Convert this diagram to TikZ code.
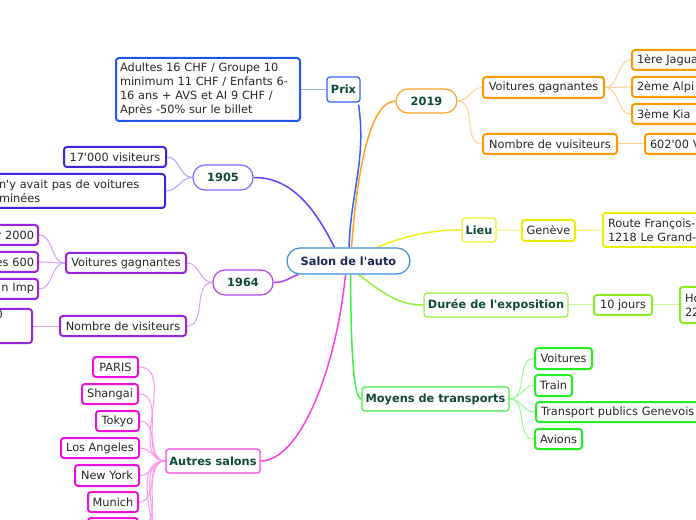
\documentclass[tikz,border=0pt]{standalone}
\usepackage{fontspec}
\setmainfont{DejaVu Sans}[Ligatures=TeXOff]
\usetikzlibrary{backgrounds}
\newdimen\pxu \pxu=0.75pt
\newcommand{\fsz}{\fontsize{8.5pt}{10.5pt}\selectfont}
\definecolor{tgreen}{HTML}{0D4A3A}
\definecolor{cnavy}{HTML}{1A2850}
\definecolor{cctr}{HTML}{3B8FD4}
\definecolor{cblue}{HTML}{3060FF}
\definecolor{cviolet}{HTML}{6A3CFF}
\definecolor{cpurple}{HTML}{B040F0}
\definecolor{cmag}{HTML}{FF40E0}
\definecolor{corange}{HTML}{FFA020}
\definecolor{cyellow}{HTML}{F0F020}
\definecolor{clime}{HTML}{99F040}
\definecolor{cgreen}{HTML}{40F040}
\definecolor{sblue}{HTML}{2255EE}
\definecolor{sviolet}{HTML}{4422DD}
\definecolor{spurple}{HTML}{9922DD}
\definecolor{smag}{HTML}{EE11DD}
\definecolor{sorange}{HTML}{FF9900}
\definecolor{syellow}{HTML}{EEEE00}
\definecolor{slime}{HTML}{88EE22}
\definecolor{sgreen}{HTML}{22EE22}
\tikzset{
  base/.style={draw, fill=white, inner sep=0pt, font=\fsz, text=black!85},
  topic/.style={base, line width=1.2\pxu, font=\fsz\bfseries, text=tgreen, rounded corners=3\pxu},
  pill/.style={topic, rounded corners=12\pxu},
  sub/.style={base, line width=2\pxu, rounded corners=3\pxu},
  sz/.style 2 args={minimum width=#1\pxu, minimum height=#2\pxu},
  mline/.style={line width=1.5\pxu},
  cline/.style={line width=1\pxu},
}
\begin{document}
\begin{tikzpicture}[x=0.75pt,y=-0.75pt]
\useasboundingbox (0,0) rectangle (696,520);
\clip (0,0) rectangle (696,520);
% central
\node[pill, draw=cctr, text=cnavy, sz={123}{26}, rounded corners=13\pxu] (c) at (348.5,261) {Salon de l'auto};
% Prix
\node[topic, draw=cblue, sz={33}{25}] (pr) at (343.5,89.5) {Prix};
\node[sub, draw=sblue, text width=176\pxu, inner xsep=4\pxu, minimum height=63\pxu, align=left] (prx) at (208,89.5)
  {Adultes 16 CHF / Groupe 10\\minimum 11 CHF / Enfants 6-\\16 ans + AVS et AI 9 CHF /\\Après -50\% sur le billet};
% 1905
\node[pill, draw=cviolet!80, sz={60}{25}] (y05) at (223,177.5) {1905};
\node[sub, draw=sviolet, sz={102}{20}] (v05a) at (115,157) {17'000 visiteurs};
\node[sub, draw=sviolet, anchor=east, text width=162\pxu, inner xsep=4\pxu, minimum height=34\pxu, align=left] (v05b) at (166,191)
  {n'y avait pas de voitures\\minées};
% 1964
\node[pill, draw=cpurple, sz={60}{25}] (y64) at (243,282.5) {1964};
\node[sub, draw=spurple, sz={120}{20}] (vg64) at (126,263) {Voitures gagnantes};
\node[sub, draw=spurple, sz={126}{20}] (nv64) at (123,326) {Nombre de visiteurs};
\node[sub, draw=spurple, anchor=east, text width=60\pxu, inner xsep=4\pxu, minimum height=20\pxu, align=right] (g64a) at (39,235) {r 2000};
\node[sub, draw=spurple, anchor=east, text width=60\pxu, inner xsep=4\pxu, minimum height=20\pxu, align=right] (g64b) at (39,262) {es 600};
\node[sub, draw=spurple, anchor=east, text width=60\pxu, inner xsep=4\pxu, minimum height=20\pxu, align=right] (g64c) at (39,289) {n Imp};
\node[sub, draw=spurple, anchor=east, sz={80}{34}] (nv64a) at (33,326) {};
\node[font=\fsz, text=black!85, anchor=base east, inner sep=0pt] (nv64t) at (3,319) {0};
% Autres salons
\node[topic, draw=cmag, sz={94}{24}] (as) at (213,461) {Autres salons};
\node[sub, draw=smag, sz={45}{20}] (as1) at (115.5,367) {PARIS};
\node[sub, draw=smag, sz={56}{20}] (as2) at (110,394) {Shangai};
\node[sub, draw=smag, sz={43}{20}] (as3) at (117.5,421) {Tokyo};
\node[sub, draw=smag, sz={78}{20}] (as4) at (100,448) {Los Angeles};
\node[sub, draw=smag, sz={64}{21}] (as5) at (107,475.5) {New York};
\node[sub, draw=smag, sz={50}{20}] (as6) at (113,502) {Munich};
\node[sub, draw=smag, sz={50}{20}] (as7) at (113,528) {};
\coordinate (as8) at (138,556);
\coordinate (as9) at (138,584);
% 2019
\node[pill, draw=corange, sz={61}{24}] (y19) at (426.5,101) {2019};
\node[sub, draw=sorange, sz={121}{21}] (vg19) at (543.5,87.5) {Voitures gagnantes};
\node[sub, draw=sorange, sz={134}{20}] (nv19) at (550,144) {Nombre de vuisiteurs};
\node[sub, draw=sorange, anchor=west, text width=100\pxu, inner xsep=5\pxu, minimum height=20\pxu, align=left] (j1) at (631,60) {1ère Jagua};
\node[sub, draw=sorange, anchor=west, text width=100\pxu, inner xsep=5\pxu, minimum height=20\pxu, align=left] (j2) at (631,87) {2ème Alpi};
\node[sub, draw=sorange, anchor=west, text width=100\pxu, inner xsep=5\pxu, minimum height=20\pxu, align=left] (j3) at (631,114) {3ème Kia};
\node[sub, draw=sorange, anchor=west, text width=100\pxu, inner xsep=5\pxu, minimum height=20\pxu, align=left] (n602) at (644,144) {602'00 V};
% Lieu
\node[topic, draw=cyellow, sz={34}{24}] (li) at (479,230) {Lieu};
\node[sub, draw=syellow, sz={53}{21}] (gen) at (548.5,230.5) {Genève};
\node[sub, draw=syellow, anchor=west, text width=110\pxu, inner xsep=5\pxu, minimum height=34\pxu, align=left] (route) at (602,230)
  {Route François-\\1218 Le Grand-};
% Duree
\node[topic, draw=clime, sz={144}{24}] (du) at (496,305) {Durée de l'exposition};
\node[sub, draw=slime, sz={58}{20}] (dj) at (623,305) {10 jours};
\node[sub, draw=slime, anchor=west, text width=60\pxu, inner xsep=5\pxu, minimum height=36\pxu, align=left] (ho) at (679,305) {Ho\\22};
% Moyens
\node[topic, draw=cgreen, sz={147}{24}] (mo) at (435.5,399) {Moyens de transports};
\node[sub, draw=sgreen, sz={57}{21}] (t1) at (563.5,358.5) {Voitures};
\node[sub, draw=sgreen, sz={37}{21}] (t2) at (553.5,385.5) {Train};
\node[sub, draw=sgreen, anchor=west, text width=170\pxu, inner xsep=5\pxu, minimum height=20\pxu, align=left] (t3) at (535,412) {Transport publics Genevois};
\node[sub, draw=sgreen, sz={47}{20}] (t4) at (558.5,439) {Avions};

\begin{pgfonlayer}{background}
% main connectors
\draw[cblue, mline] ([xshift=0.5\pxu]c.north) to[out=88,in=-82] ([xshift=-2\pxu,yshift=-2\pxu]pr.south east);
\draw[corange, mline] ([xshift=3\pxu]c.north) .. controls (358,160) and (372,101) .. (y19.west);
\draw[cviolet, mline] (y05.east) .. controls (295,177) and (318,215) .. ([xshift=-14\pxu]c.north);
\draw[cpurple, mline] (y64.east) .. controls (285,283) and (292,276) .. ([xshift=12\pxu]c.south west);
\draw[cmag, mline] (as.east) .. controls (300,461) and (336,370) .. ([xshift=-3\pxu]c.south);
\draw[cgreen, mline] ([xshift=2\pxu]c.south) .. controls (351,330) and (352,399) .. (mo.west);
\draw[clime, mline] ([xshift=10\pxu]c.south) .. controls (385,295) and (400,305) .. (du.west);
\draw[cyellow, mline] ([xshift=28\pxu]c.north) .. controls (405,236) and (430,230) .. (li.west);
% child connectors
\draw[cblue!50, cline] (pr.west) -- (prx.east);
\foreach \n in {v05a,v05b} \draw[cviolet!50, cline] (y05.west) to[out=180,in=0] (\n.east);
\foreach \n in {vg64,nv64} \draw[cpurple!50, cline] (y64.west) to[out=180,in=0] (\n.east);
\foreach \n in {g64a,g64b,g64c} \draw[cpurple!50, cline] (vg64.west) to[out=180,in=0] (\n.east);
\draw[cpurple!50, cline] (nv64.west) -- (nv64a.east);
\foreach \n in {as1,as2,as3,as4,as5,as6,as7} \draw[cmag!55, cline] (as.west) to[out=180,in=0] (\n.east);
\foreach \n in {as8,as9} \draw[cmag!55, cline] (as.west) to[out=180,in=0] (\n);
\foreach \n in {vg19,nv19} \draw[corange!50, cline] (y19.east) to[out=0,in=180] (\n.west);
\foreach \n in {j1,j2,j3} \draw[corange!50, cline] (vg19.east) to[out=0,in=180] (\n.west);
\draw[corange!50, cline] (nv19.east) -- (n602.west);
\draw[cyellow!60, cline] (li.east) -- (gen.west);
\draw[cyellow!60, cline] (gen.east) -- (route.west);
\draw[clime!55, cline] (du.east) -- (dj.west);
\draw[clime!55, cline] (dj.east) -- (ho.west);
\foreach \n in {t1,t2,t3,t4} \draw[cgreen!55, cline] (mo.east) to[out=0,in=180] (\n.west);
\end{pgfonlayer}
\end{tikzpicture}
\end{document}
